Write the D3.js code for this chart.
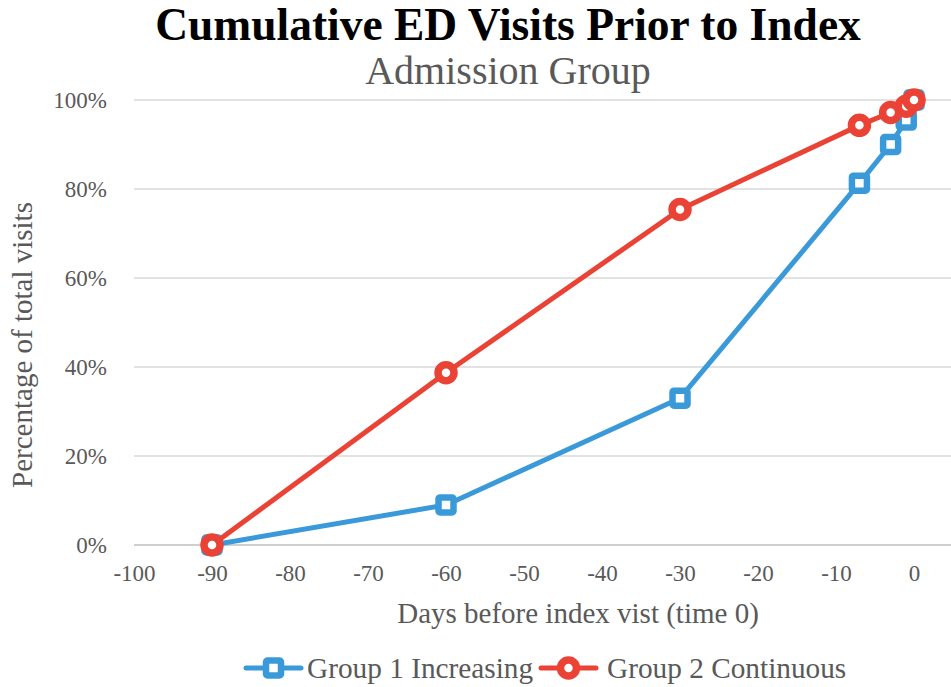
<!DOCTYPE html>
<html>
<head>
<meta charset="utf-8">
<script src="https://cdn.jsdelivr.net/npm/d3@7"></script>
<style>
  html, body { margin: 0; padding: 0; background: #fff; }
  svg { display: block; font-family: "Liberation Serif", "Times New Roman", serif; }
</style>
</head>
<body>
<svg id="chart" width="951" height="687"></svg>
<script>
// Days before the index visit at which cumulative share was measured
const days1 = [-90, -60, -30, -7, -3, -1, 0];
const group1 = [0, 9.0, 33.0, 81.3, 90.0, 95.5, 100];   // Group 1 Increasing (%)
const days2 = [-90, -60, -30, -7, -3, -1, 0];
const group2 = [0, 38.7, 75.4, 94.3, 97.2, 98.6, 100];  // Group 2 Continuous (%)

const xTicks = [-100, -90, -80, -70, -60, -50, -40, -30, -20, -10, 0];
const yTicks = [0, 20, 40, 60, 80, 100];

const seriesNames = ["Group 1 Increasing", "Group 2 Continuous"];
const colors = ["#3a9ad9", "#ea4335"];

const svg = d3.select("#chart");
const plotLeft = 134, plotRight = 951, plotTop = 100, plotBottom = 545;

const x = d3.scaleLinear().domain([-100, 4.74]).range([plotLeft, plotRight]);
const y = d3.scaleLinear().domain([0, 100]).range([plotBottom, plotTop]);

// Title and subtitle
svg.append("text")
  .attr("x", 508).attr("y", 40)
  .attr("text-anchor", "middle")
  .attr("font-size", 45.5).attr("font-weight", "bold").attr("fill", "#000")
  .text("Cumulative ED Visits Prior to Index");
svg.append("text")
  .attr("x", 508).attr("y", 84)
  .attr("text-anchor", "middle")
  .attr("font-size", 40).attr("fill", "#595959")
  .text("Admission Group");

// Horizontal gridlines
svg.append("g")
  .selectAll("line")
  .data(yTicks)
  .join("line")
  .attr("x1", plotLeft).attr("x2", plotRight)
  .attr("y1", d => y(d)).attr("y2", d => y(d))
  .attr("stroke", d => d === 0 ? "#bfbfbf" : "#d9d9d9")
  .attr("stroke-width", 1.5);

// Y axis labels
const yAxis = d3.axisLeft(y).tickValues(yTicks).tickFormat(d => d + "%").tickSize(0).tickPadding(27);
const gy = svg.append("g").attr("transform", `translate(${plotLeft},0)`).call(yAxis);
gy.select(".domain").remove();
gy.selectAll("text").attr("font-size", 23).attr("fill", "#595959")
  .attr("font-family", "Liberation Serif, Times New Roman, serif");

// X axis labels
const xAxis = d3.axisBottom(x).tickValues(xTicks).tickFormat(d => d).tickSize(0).tickPadding(20);
const gx = svg.append("g").attr("transform", `translate(0,${plotBottom})`).call(xAxis);
gx.select(".domain").remove();
gx.selectAll("text").attr("font-size", 23).attr("fill", "#595959")
  .attr("font-family", "Liberation Serif, Times New Roman, serif");

// Axis titles
svg.append("text")
  .attr("x", 578).attr("y", 623)
  .attr("text-anchor", "middle")
  .attr("font-size", 29).attr("fill", "#595959")
  .text("Days before index vist (time 0)");
svg.append("text")
  .attr("transform", "translate(32,345) rotate(-90)")
  .attr("text-anchor", "middle")
  .attr("font-size", 29).attr("fill", "#595959")
  .text("Percentage of total visits");

// Series
const series = [
  { name: seriesNames[0], color: colors[0], shape: "square", pts: days1.map((d, i) => [d, group1[i]]) },
  { name: seriesNames[1], color: colors[1], shape: "circle", pts: days2.map((d, i) => [d, group2[i]]) }
];

const line = d3.line().x(d => x(d[0])).y(d => y(d[1]));

function drawMarker(g, shape, color, cx, cy) {
  if (shape === "square") {
    g.append("rect")
      .attr("x", cx - 7.5).attr("y", cy - 7.5)
      .attr("width", 15).attr("height", 15)
      .attr("rx", 1.5)
      .attr("fill", "#fff").attr("stroke", color).attr("stroke-width", 6.5);
  } else {
    g.append("circle")
      .attr("cx", cx).attr("cy", cy).attr("r", 8)
      .attr("fill", "#fff").attr("stroke", color).attr("stroke-width", 7.5);
  }
}

series.forEach(s => {
  const g = svg.append("g");
  g.append("path")
    .datum(s.pts)
    .attr("d", line)
    .attr("fill", "none")
    .attr("stroke", s.color)
    .attr("stroke-width", 5)
    .attr("stroke-linejoin", "round");
  s.pts.forEach(p => drawMarker(g, s.shape, s.color, x(p[0]), y(p[1])));
});

// Legend
const legendItems = [
  { lx: 246, tx: 307, s: series[0] },
  { lx: 541, tx: 607, s: series[1] }
];
legendItems.forEach(it => {
  const g = svg.append("g");
  g.append("line")
    .attr("x1", it.lx).attr("x2", it.lx + 55)
    .attr("y1", 668).attr("y2", 668)
    .attr("stroke", it.s.color).attr("stroke-width", 5).attr("stroke-linecap", "round");
  drawMarker(g, it.s.shape, it.s.color, it.lx + 27.5, 668);
  g.append("text")
    .attr("x", it.tx).attr("y", 678)
    .attr("font-size", 29.3).attr("fill", "#595959")
    .text(it.s.name);
});
</script>
</body>
</html>
